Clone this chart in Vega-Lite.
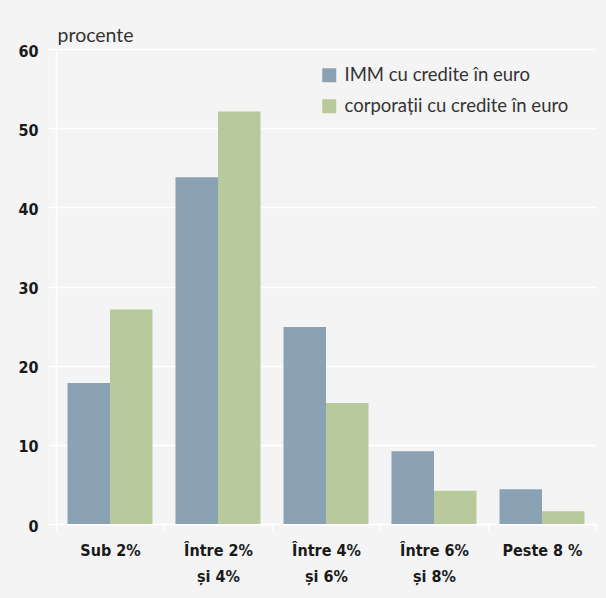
{
  "$schema": "https://vega.github.io/schema/vega-lite/v6.json",
  "width": 540,
  "height": 475,
  "autosize": "none",
  "padding": {"left": 56, "top": 49, "right": 10, "bottom": 74},
  "background": "#f4f4f4",
  "config": {"view": {"stroke": null}},
  "data": {
    "values": [
      {"cat": "Sub 2%", "series": "IMM cu credite în euro", "value": 17.8},
      {"cat": "Sub 2%", "series": "corporații cu credite în euro", "value": 27.1},
      {"cat": "Între 2%|și 4%", "series": "IMM cu credite în euro", "value": 43.8},
      {"cat": "Între 2%|și 4%", "series": "corporații cu credite în euro", "value": 52.1},
      {"cat": "Între 4%|și 6%", "series": "IMM cu credite în euro", "value": 24.9},
      {"cat": "Între 4%|și 6%", "series": "corporații cu credite în euro", "value": 15.3},
      {"cat": "Între 6%|și 8%", "series": "IMM cu credite în euro", "value": 9.2},
      {"cat": "Între 6%|și 8%", "series": "corporații cu credite în euro", "value": 4.2},
      {"cat": "Peste 8 %", "series": "IMM cu credite în euro", "value": 4.4},
      {"cat": "Peste 8 %", "series": "corporații cu credite în euro", "value": 1.6}
    ]
  },
  "mark": {"type": "bar"},
  "encoding": {
    "x": {
      "field": "cat",
      "type": "nominal",
      "sort": null,
      "scale": {"paddingInner": 0, "paddingOuter": 0},
      "axis": {
        "title": null,
        "labelAngle": 0,
        "tickBand": "extent",
        "domainColor": "#ffffff",
        "domainWidth": 1.5,
        "tickColor": "#ffffff",
        "tickWidth": 1.5,
        "tickSize": 6,
        "labelFont": "DejaVu Sans Condensed, Liberation Sans Narrow, sans-serif",
        "labelFontWeight": "bold",
        "labelFontSize": 16,
        "labelColor": "#1a1a1a",
        "labelPadding": 12,
        "labelLineHeight": 26,
        "labelExpr": "split(datum.label, '|')"
      }
    },
    "xOffset": {
      "field": "series",
      "type": "nominal",
      "sort": null,
      "scale": {"paddingInner": 0, "paddingOuter": 0.27}
    },
    "y": {
      "field": "value",
      "type": "quantitative",
      "scale": {"domain": [0, 60]},
      "axis": {
        "values": [0, 10, 20, 30, 40, 50, 60],
        "grid": true,
        "gridColor": "#ffffff",
        "gridWidth": 1.5,
        "domainColor": "#ffffff",
        "domainWidth": 1.5,
        "tickColor": "#ffffff",
        "tickWidth": 1.5,
        "tickSize": 8,
        "labelFont": "DejaVu Sans Condensed, Liberation Sans Narrow, sans-serif",
        "labelFontWeight": "bold",
        "labelFontSize": 16,
        "labelColor": "#1a1a1a",
        "labelPadding": 10,
        "labelOffset": 2,
        "title": "procente",
        "titleAngle": 0,
        "titleAlign": "left",
        "titleBaseline": "alphabetic",
        "titleX": 1,
        "titleY": -8,
        "titleFont": "Lato",
        "titleFontWeight": "normal",
        "titleFontSize": 19.5,
        "titleColor": "#333333"
      }
    },
    "color": {
      "field": "series",
      "type": "nominal",
      "sort": null,
      "scale": {
        "domain": ["IMM cu credite în euro", "corporații cu credite în euro"],
        "range": ["#8ba2b5", "#b8c99b"]
      },
      "legend": {
        "title": null,
        "orient": "none",
        "legendX": 264,
        "legendY": 17,
        "padding": 0,
        "symbolType": "square",
        "symbolSize": 196,
        "symbolStrokeWidth": 0,
        "labelFont": "Lato",
        "labelFontSize": 18.5,
        "labelColor": "#333333",
        "labelOffset": 6,
        "labelLimit": 400,
        "rowPadding": 12
      }
    }
  }
}
